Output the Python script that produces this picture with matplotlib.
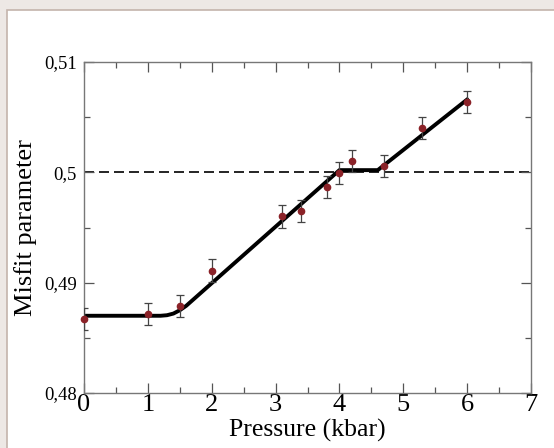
import numpy as np
import matplotlib.pyplot as plt
from matplotlib.patches import Rectangle
from matplotlib.ticker import MultipleLocator, FuncFormatter

# measured points
pressure = [0.0, 1.0, 1.5, 2.0, 3.1, 3.4, 3.8, 4.0, 4.2, 4.7, 5.3, 6.0]
misfit = [0.4867, 0.4872, 0.4879, 0.4911, 0.4960, 0.4965, 0.4987, 0.4999, 0.5010, 0.5006, 0.5040, 0.5064]
err = [0.001, 0.001, 0.001, 0.001, 0.001, 0.001, 0.001, 0.001, 0.001, 0.001, 0.001, 0.001]

# fitted curve
fit_x = [0.0, 1.2, 1.3, 1.4, 1.5, 1.6, 4.0, 4.6, 6.0]
fit_y = [0.4870, 0.4870, 0.48705, 0.4872, 0.4875, 0.4879, 0.5002, 0.5002, 0.5066]

plt.rcParams['font.family'] = ['Liberation Serif', 'DejaVu Serif']

fig = plt.figure(figsize=(5.54, 4.48), dpi=100)
fig.patch.set_facecolor('#ede8e5')
# white panel with thin border
fig.patches.append(Rectangle((7/554, -0.01), 1, 1.01 - 10/448, transform=fig.transFigure,
                             facecolor='white', edgecolor='#c4b4ac', linewidth=1.2, zorder=-5))

ax = fig.add_axes([84/554, 1 - 393/448, (531-84)/554, (393-62)/448])
ax.set_facecolor('none')

ax.axhline(0.5, color='black', linestyle=(0, (6, 3)), linewidth=1.2, zorder=1)
ax.plot(fit_x, fit_y, color='black', linewidth=2.8, solid_joinstyle='round', zorder=2)
ax.errorbar(pressure, misfit, yerr=err, fmt='none', ecolor='#444444', elinewidth=0.9,
            capsize=3, capthick=0.9, zorder=3)
ax.plot(pressure, misfit, 'o', color='#8b2228', markersize=4.5, zorder=4, clip_on=False)

ax.set_xlim(0, 7)
ax.set_ylim(0.48, 0.51)
ax.xaxis.set_major_locator(MultipleLocator(1))
ax.xaxis.set_minor_locator(MultipleLocator(0.5))
ax.yaxis.set_major_locator(MultipleLocator(0.01))
ax.yaxis.set_minor_locator(MultipleLocator(0.005))
ax.yaxis.set_major_formatter(FuncFormatter(lambda v, p: ('%g' % round(v, 3)).replace('.', ',')))

for s in ax.spines.values():
    s.set_color('#777777')
    s.set_linewidth(1.0)
ax.tick_params(which='both', direction='in', top=True, right=True, color='#555555')
ax.tick_params(which='major', length=7, width=0.9)
ax.tick_params(which='minor', length=4, width=0.9)
ax.tick_params(axis='x', labelsize=19, pad=1)
ax.tick_params(axis='y', labelsize=13.5, pad=5)

ax.set_xlabel('Pressure (kbar)', fontsize=18.5, labelpad=2)
ax.set_ylabel('Misfit parameter', fontsize=19, labelpad=5)

fig.savefig('out.png', dpi=100, facecolor=fig.get_facecolor())
